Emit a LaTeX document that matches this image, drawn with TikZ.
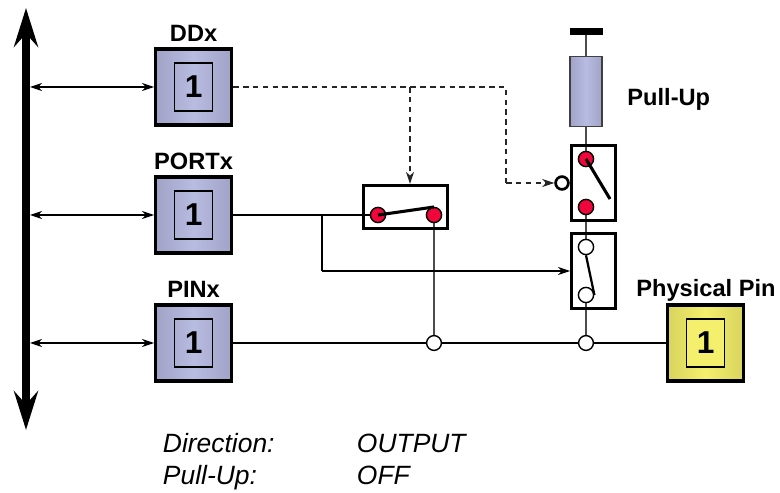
\documentclass[tikz,border=0pt]{standalone}
\usepackage{fontspec}
\setmainfont{Liberation Sans}
\usetikzlibrary{arrows.meta,backgrounds}

\begin{document}
\begin{tikzpicture}[
  x=1cm,
  y=1cm,
  line/.style={draw=black,line width=0.9pt},
  wire/.style={draw=black!70,line width=1.4pt},
  busline/.style={draw=black,line width=5pt,{Stealth[length=9.7mm,width=6mm,inset=3.3mm]}-{Stealth[length=9.7mm,width=6mm,inset=3.3mm]}},
  busarrow/.style={line,line width=1.1pt,{Stealth[length=3mm,width=2mm,inset=0.9mm]}-{Stealth[length=3mm,width=2mm,inset=0.9mm]}},
  arrow/.style={line,line width=0.8pt,-{Stealth[length=3mm,width=2mm,inset=0.9mm]}},
  ctrl/.style={draw=black!85,line width=0.8pt,dash pattern=on 4pt off 3pt,-{Stealth[length=3mm,width=2mm,inset=0.9mm]}},
  ctrlplain/.style={draw=black!85,line width=0.8pt,dash pattern=on 4pt off 3pt},
  regbox/.style={draw=black,line width=2.2pt,minimum size=1.9cm,inner sep=0pt,
    left color=regdark,right color=regdark,middle color=reglight},
  pinbox/.style={regbox,left color=pindark,right color=pindark,middle color=pinlight},
  bitbox/.style={draw=black,line width=0.8pt,minimum width=0.95cm,minimum height=1.2cm,inner sep=0pt,
    font=\bfseries\fontsize{22.5}{24}\selectfont},
  regbit/.style={bitbox,left color=regmid,right color=regmid,middle color=reglight},
  pinbit/.style={bitbox,fill=pinlight},
  title/.style={font=\bfseries\fontsize{16.8}{18}\selectfont},
  state/.style={anchor=base west,font=\itshape\fontsize{18.8}{20}\selectfont},
  resistor/.style={draw=black!75,line width=1.1pt,minimum width=0.8cm,minimum height=1.75cm,inner sep=0pt,
    left color=regdark,right color=regdark,middle color=reglight},
  switchbox/.style={draw=black,line width=2.2pt,inner sep=0pt},
  contact/.style={circle,draw=black,line width=1pt,inner sep=0pt,minimum size=0.38cm},
  redcontact/.style={contact,fill=contactred},
  opencontact/.style={contact,fill=white},
  lever/.style={draw=black,line width=2.2pt},
  jct/.style={circle,draw=black,line width=1pt,fill=white,inner sep=0pt,minimum size=0.37cm},
  bubble/.style={circle,draw=black,line width=1.9pt,fill=white,inner sep=0pt,minimum size=0.32cm}
]
\definecolor{regdark}{HTML}{A0A3C6}
\definecolor{regmid}{HTML}{ACAFD2}
\definecolor{reglight}{HTML}{B9BCE2}
\definecolor{pindark}{HTML}{D8D45E}
\definecolor{pinlight}{HTML}{F4EF6C}
\definecolor{contactred}{HTML}{F0063A}

\useasboundingbox (0,0) rectangle (19.5,12.325);

% Data bus
\coordinate (bustop) at (0.65,12.125);
\coordinate (busbot) at (0.65,1.575);
\draw[busline] (bustop) -- (busbot);
\coordinate (busdd) at (0.75,10.15);
\coordinate (busport) at (0.75,6.95);
\coordinate (buspin) at (0.75,3.75);

% Registers
\node[regbox] (dd) at (4.84,10.15) {};
\node[regbit] (ddbit) at (dd.center) {1};
\node[title] (ddlabel) at (4.84,11.5) {DDx};
\node[regbox] (port) at (4.84,6.95) {};
\node[regbit] (portbit) at (port.center) {1};
\node[title] (portlabel) at (4.84,8.3) {PORTx};
\node[regbox] (pin) at (4.84,3.75) {};
\node[regbit] (pinbit) at (pin.center) {1};
\node[title] (pinlabel) at (4.84,5.1) {PINx};

% Physical pin
\node[pinbox] (phys) at (17.64,3.75) {};
\node[pinbit] (physbit) at (phys.center) {1};
\node[title] (physlabel) at (17.65,5.06) {Physical Pin};

% Pull-up resistor
\node[draw=black,fill=black,minimum width=0.8cm,minimum height=0.14cm,inner sep=0pt] (vcc) at (14.65,11.55) {};
\node[resistor] (pullup) at (14.65,10.04) {};
\node[title] (pulluplabel) at (16.72,9.85) {Pull-Up};

% Upper switch
\node[switchbox,minimum width=1.1cm,minimum height=1.875cm] (upsw) at (14.84,7.75) {};
\node[redcontact] (uptop) at (14.65,8.35) {};
\node[redcontact] (upbot) at (14.65,7.15) {};
\node[bubble] (inv) at (14.05,7.75) {};
\coordinate (upend) at (15.25,7.35);
\draw[lever] (uptop.center) -- (upend);

% Lower switch
\node[switchbox,minimum width=1.1cm,minimum height=1.875cm] (lowsw) at (14.84,5.55) {};
\node[opencontact] (lowtop) at (14.65,6.15) {};
\node[opencontact] (lowbot) at (14.65,4.95) {};
\coordinate (lowend) at (14.86,4.95);
\draw[line,line width=1.6pt] (lowtop.south) -- (lowend);

% Middle switch
\node[switchbox,minimum width=2.1cm,minimum height=1.075cm] (midsw) at (10.14,7.15) {};
\node[redcontact] (midl) at (9.45,6.95) {};
\node[redcontact] (midr) at (10.85,6.95) {};
\coordinate (midend) at (10.85,7.15);
\draw[lever] (midl.center) -- (midend);

% Junctions
\node[jct] (jctmid) at (10.85,3.75) {};
\node[jct] (jctpull) at (14.65,3.75) {};

% Bus arrows
\draw[busarrow] (busdd) -- (dd.west);
\draw[busarrow] (busport) -- (port.west);
\draw[busarrow] (buspin) -- (pin.west);

% Wires
\begin{scope}[on background layer]
  \draw[wire] (vcc) -- (pullup);
  \draw[wire] (pullup) -- (uptop);
  \draw[wire] (upbot) -- (lowtop);
  \draw[wire] (lowbot) -- (jctpull);
  \draw[wire] (midr) -- (jctmid);
  \draw[line] (port) -- (midl);
  \draw[line] (pin) -- (jctmid);
  \draw[line] (jctmid) -- (jctpull);
  \draw[line] (jctpull) -- (phys);
\end{scope}

% Feed to lower switch
\coordinate (portjog) at (8.05,6.95);
\coordinate (portdown) at (8.05,5.55);
\draw[line,line width=0.8pt] (portjog) -- (portdown);
\draw[arrow] (portdown) -- (lowsw.west);

% Direction control
\coordinate (ddjog) at (12.65,10.15);
\coordinate (ddtap) at (10.25,10.15);
\coordinate (ddturn) at (12.65,7.75);
\draw[ctrlplain] (dd.east) -- (ddjog) -- (ddturn);
\draw[ctrl] (ddturn) -- (inv.west);
\draw[ctrl] (ddtap) -- (ddtap |- midsw.north);

% State text
\node[state] (dirname) at (3.95,1.02) {Direction:};
\node[state] (dirvalue) at (8.8,1.02) {OUTPUT};
\node[state] (pullname) at (3.95,0.22) {Pull-Up:};
\node[state] (pullvalue) at (8.8,0.22) {OFF};

\end{tikzpicture}
\end{document}
